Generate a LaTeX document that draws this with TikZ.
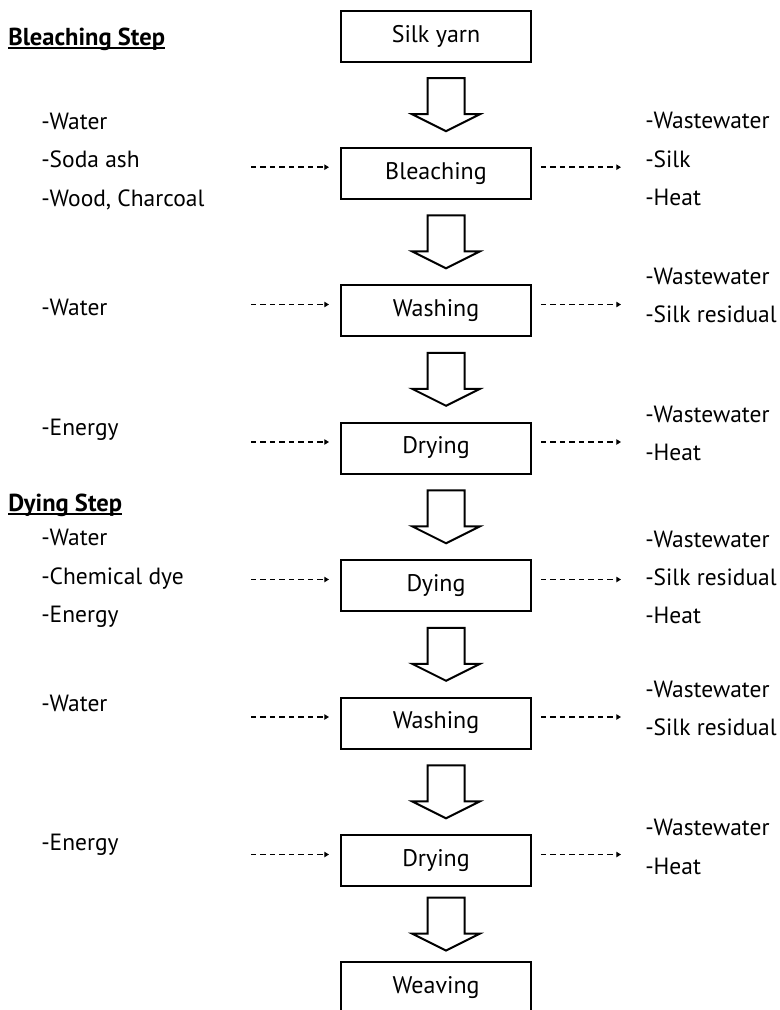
\documentclass[tikz,border=0pt]{standalone}
\usepackage{fontspec}
\setmainfont{PT Sans}
\usetikzlibrary{arrows.meta,calc}
\begin{document}
\begin{tikzpicture}[x=0.75pt,y=-0.75pt,
  stepbox/.style={draw, line width=1.5pt, minimum width=142.5pt, minimum height=38.25pt,
    inner sep=0pt, font=\fontsize{18}{21}\selectfont},
  lbl/.style={anchor=base west, inner sep=0pt, font=\fontsize{17.6}{21}\selectfont},
  heading/.style={anchor=base west, inner sep=0pt, font=\fontsize{18.4}{21}\selectfont\bfseries},
  flow/.style={line width=1.2pt, dash pattern=on 4.1pt off 3pt,
    -{Triangle[length=3.5pt,width=4pt]}},
  blockarrow/.style={line width=1.5pt, line join=miter}
]
\useasboundingbox (0,0) rectangle (779,1010);

% process chain
\node[stepbox] (silk)   at (436,36.2)  {Silk yarn};
\node[stepbox] (bleach) at (436,173.2) {Bleaching};
\node[stepbox] (washA)  at (436,310.5) {Washing};
\node[stepbox] (dryA)   at (436,448)   {Drying};
\node[stepbox] (dye)    at (436,585.5) {Dying};
\node[stepbox] (washB)  at (436,723)   {Washing};
\node[stepbox] (dryB)   at (436,860.5) {Drying};
\node[stepbox] (weave)  at (436,987.5) {Weaving};

% hollow block arrows between consecutive steps
\foreach \a/\b in {silk/bleach, bleach/washA, washA/dryA, dryA/dye, dye/washB, washB/dryB, dryB/weave} {
  \coordinate (bm) at ($(\a.south)!0.5!(\b.north)+(10,0)$);
  \draw[blockarrow] ($(bm)+(-18.5,-26.5)$) -- ($(bm)+(18.5,-26.5)$) -- ($(bm)+(18.5,9.5)$)
    -- ($(bm)+(34,9.5)$) -- ($(bm)+(0,26.5)$) -- ($(bm)+(-34,9.5)$) -- ($(bm)+(-18.5,9.5)$) -- cycle;
}

% dashed inputs and outputs
\foreach \n in {bleach, washA, dryA, dye, washB, dryB} {
  \coordinate (\n-in)  at ($(\n.west)+(-89,-6)$);
  \coordinate (\n-out) at ($(\n.east)+(89,-6)$);
  \draw[flow] (\n-in) -- ($(\n.west)+(-11,-6)$);
  \draw[flow] ($(\n.east)+(9,-6)$) -- (\n-out);
}

% section headings
\node[heading] (hBleach) at (8,45) {Bleaching Step};
\draw[line width=1.5pt] ([yshift=-2.2pt]hBleach.base west) -- ([yshift=-2.2pt]hBleach.base east);
\node[heading] (hDye) at (8,511.5) {Dying Step};
\draw[line width=1.5pt] ([yshift=-2.2pt]hDye.base west) -- ([yshift=-2.2pt]hDye.base east);

% inputs
\node[lbl] (i1) at (41,129)   {-Water};
\node[lbl] (i2) at (41,167.5) {-Soda ash};
\node[lbl] (i3) at (41,206)   {-Wood, Charcoal};
\node[lbl] (i4) at (41,315.5) {-Water};
\node[lbl] (i5) at (41,435.5) {-Energy};
\node[lbl] (i6) at (41,545.5) {-Water};
\node[lbl] (i7) at (41,584.5) {-Chemical dye};
\node[lbl] (i8) at (41,622.5) {-Energy};
\node[lbl] (i9) at (41,711.5) {-Water};
\node[lbl] (i10) at (41,850.5) {-Energy};

% outputs
\node[lbl] (o1)  at (645,128.5) {-Wastewater};
\node[lbl] (o2)  at (645,167.5) {-Silk};
\node[lbl] (o3)  at (645,205.5) {-Heat};
\node[lbl] (o4)  at (645,284.5) {-Wastewater};
\node[lbl] (o5)  at (645,322.5) {-Silk residual};
\node[lbl] (o6)  at (645,422.5) {-Wastewater};
\node[lbl] (o7)  at (645,460.5) {-Heat};
\node[lbl] (o8)  at (645,547.5) {-Wastewater};
\node[lbl] (o9)  at (645,585.5) {-Silk residual};
\node[lbl] (o10) at (645,623.5) {-Heat};
\node[lbl] (o11) at (645,697.5) {-Wastewater};
\node[lbl] (o12) at (645,735.5) {-Silk residual};
\node[lbl] (o13) at (645,835.5) {-Wastewater};
\node[lbl] (o14) at (645,874.5) {-Heat};
\end{tikzpicture}
\end{document}
